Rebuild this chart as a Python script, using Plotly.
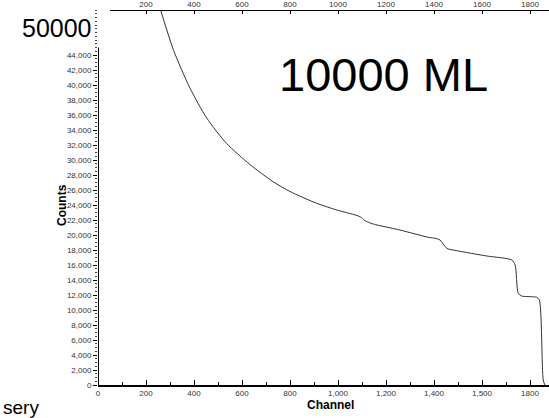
import plotly.graph_objects as go

W, H = 549, 418

# data
channel = [261, 314, 383, 453, 536, 633, 730, 800, 911, 995, 1092, 1112, 1147,
           1258, 1376, 1404, 1425, 1453, 1495, 1620, 1724, 1738, 1751, 1765, 1828,
           1839, 1855, 1862]
counts = [50000, 44700, 39600, 35600, 32200, 29400, 27100, 25800, 24227, 23333,
          22440, 21907, 21467, 20667, 19693, 19560, 19333, 18227, 17907, 17200, 16667,
          16000, 12227, 11867, 11693, 11333, 667, 0]

x_tickvals = [0, 200, 400, 600, 800, 1000, 1200, 1400, 1600, 1800]
x_ticktext = ["0", "200", "400", "600", "800", "1,000", "1,200", "1,400", "1,500", "1800"]
y_tickvals = list(range(0, 44001, 2000))
y_ticktext = [f"{v:,}" for v in y_tickvals]
top_tickvals = [200, 400, 600, 800, 1000, 1200, 1400, 1600, 1800]
top_ticktext = ["200", "400", "600", "800", "1000", "1200", "1400", "1600", "1800"]

# pixel geometry
px_x0, px_per_ch = 98, 0.24
px_y0, px_ytop = 385, 10
x_max = (W - px_x0) / px_per_ch
top_start = (110 - px_x0) / px_per_ch

fig = go.Figure()
fig.add_trace(go.Scatter(x=channel, y=counts, mode="lines",
                         line=dict(color="#333333", width=1, shape="spline", smoothing=0.7),
                         showlegend=False, cliponaxis=True))

tickfont = dict(family="Liberation Sans, Arial", size=8, color="#333333")

fig.update_layout(
    width=W, height=H, margin=dict(l=0, r=0, t=0, b=0),
    paper_bgcolor="white", plot_bgcolor="rgba(0,0,0,0)",
    xaxis=dict(domain=[px_x0 / W, 1], range=[0, x_max], showgrid=False, zeroline=False,
               showline=True, linecolor="black", linewidth=1.5,
               tickvals=x_tickvals, ticktext=x_ticktext, ticks="inside", ticklen=5,
               tickcolor="black", tickfont=tickfont, automargin=False,
               minor=dict(dtick=100, tick0=0, ticks="inside", ticklen=3, tickcolor="black")),
    yaxis=dict(domain=[1 - px_y0 / H, 1 - px_ytop / H], range=[0, 50000], showgrid=False,
               zeroline=False, showline=False,
               tickvals=y_tickvals, ticktext=y_ticktext, ticks="outside", ticklen=4,
               tickcolor="black", tickfont=tickfont, automargin=False,
               minor=dict(dtick=500, tick0=0, ticks="outside", ticklen=2, tickcolor="#444")),
    xaxis2=dict(domain=[110 / W, 1], range=[top_start, x_max], anchor="free",
                position=1 - px_ytop / H, side="top",
                showgrid=False, zeroline=False, showline=True, linecolor="black", linewidth=1.2,
                tickvals=top_tickvals, ticktext=top_ticktext, ticks="inside", ticklen=3,
                tickcolor="black", tickfont=tickfont, automargin=False),
)
# invisible trace to activate top axis
fig.add_trace(go.Scatter(x=[top_start], y=[None], xaxis="x2", yaxis="y",
                         mode="markers", showlegend=False, hoverinfo="skip"))

# y axis line (does not reach the top)
fig.add_shape(type="line", xref="x", yref="y", x0=0, x1=0, y0=0, y1=45000,
              line=dict(color="black", width=2))

txt = "Liberation Sans, Arial"
fig.add_annotation(text="50000", xref="paper", yref="paper", x=20 / W, y=1 - 28 / H,
                   xanchor="left", yanchor="middle", showarrow=False,
                   font=dict(family=txt, size=25, color="black"))
fig.add_annotation(text="10000 ML", xref="paper", yref="paper", x=277 / W, y=1 - 74 / H,
                   xanchor="left", yanchor="middle", showarrow=False,
                   font=dict(family=txt, size=47, color="black"))
fig.add_annotation(text="<b>Counts</b>", xref="paper", yref="paper", x=62 / W, y=1 - 205 / H,
                   xanchor="center", yanchor="middle", showarrow=False, textangle=-90,
                   font=dict(family=txt, size=12, color="black"))
fig.add_annotation(text="<b>Channel</b>", xref="paper", yref="paper", x=330 / W, y=1 - 405 / H,
                   xanchor="center", yanchor="middle", showarrow=False,
                   font=dict(family=txt, size=12, color="black"))
fig.add_annotation(text="sery", xref="paper", yref="paper", x=1 / W, y=1 - 407 / H,
                   xanchor="left", yanchor="middle", showarrow=False,
                   font=dict(family=txt, size=19, color="black"))

fig.write_html("out.html")
